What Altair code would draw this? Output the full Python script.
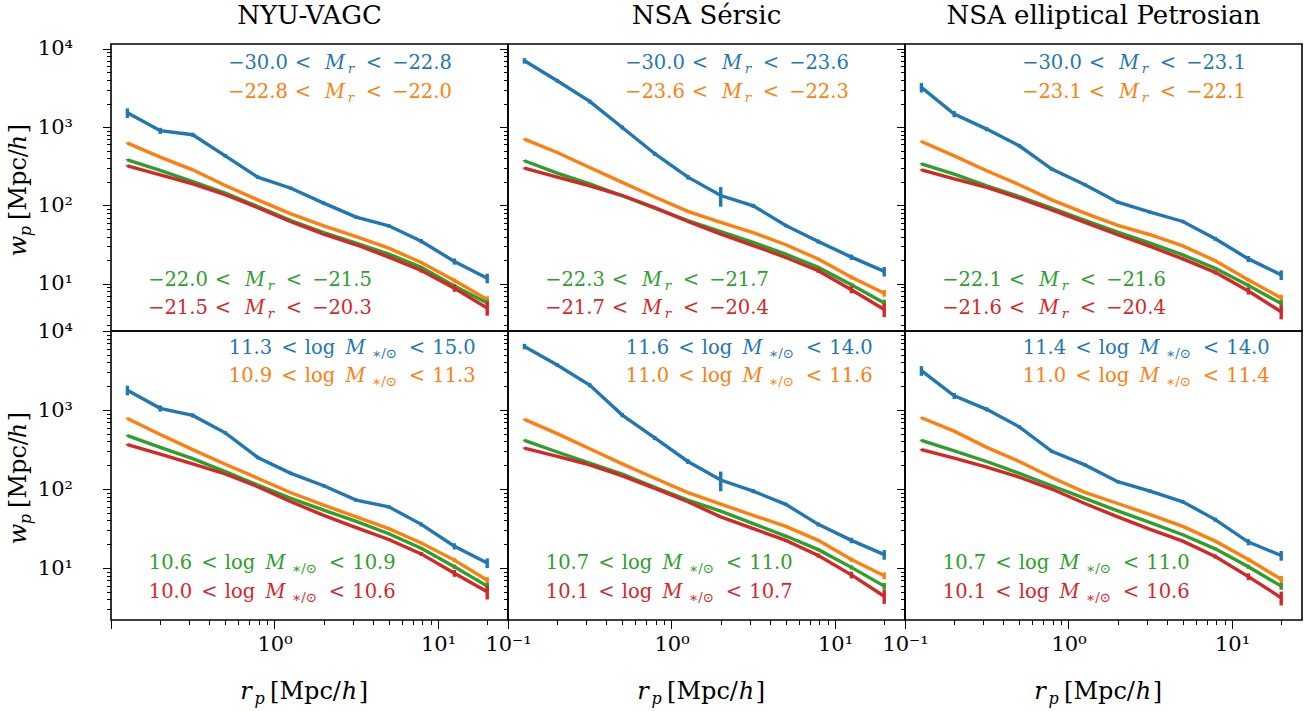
import altair as alt
import pandas as pd

FONT = "DejaVu Serif"
COLORS = ["#1f77b4", "#ff7f0e", "#2ca02c", "#d62728"]
SERIES = ["s0", "s1", "s2", "s3"]

TITLES = ["NYU-VAGC", "NSA Sérsic", "NSA elliptical Petrosian"]

# projected separation bin centres [Mpc/h]
RP = [0.126, 0.2, 0.316, 0.5, 0.79, 1.26, 2.0, 3.16, 5.0, 7.9, 12.6, 20.0]

# ---- top row: magnitude bins ----
NYU_MR_BLUE = [1520, 900, 800, 430, 230, 166, 107, 71, 55, 35, 19.3, 11.8]
NYU_MR_ORANGE = [625, 414, 285, 180, 118, 78, 55, 40, 28.5, 18.7, 11, 6.3]
NYU_MR_GREEN = [383, 280, 202, 144, 97, 64, 45, 33, 24, 16.2, 9.4, 5.7]
NYU_MR_RED = [321, 246, 189, 137, 94, 62, 43, 31.5, 21.9, 14.8, 8.8, 4.9]

SER_MR_BLUE = [7030, 3900, 2130, 990, 457, 230, 134, 99, 55.6, 34.7, 21.9, 14.4]
SER_MR_ORANGE = [703, 475, 305, 197, 128, 84, 61, 45, 31.5, 20.7, 12.1, 7.6]
SER_MR_GREEN = [372, 259, 189, 133, 92.5, 64, 46.5, 33.7, 23.9, 16.2, 9.7, 5.7]
SER_MR_RED = [300, 230, 178, 134, 94, 62.5, 43, 30.8, 21.7, 14.7, 8.4, 4.7]

PET_MR_BLUE = [3210, 1470, 943, 578, 291, 184, 110, 82, 62.5, 37.5, 20.8, 13]
PET_MR_ORANGE = [656, 430, 277, 184, 118, 80, 55.6, 42.3, 30.5, 19.7, 11.2, 6.6]
PET_MR_GREEN = [340, 251, 178, 130, 92.5, 64.4, 45.7, 33, 23.4, 15.8, 9.5, 5.6]
PET_MR_RED = [285, 219, 170, 124, 88, 60.7, 42.3, 30, 20.8, 14, 8.1, 4.4]

# ---- bottom row: stellar-mass bins ----
NYU_MS_BLUE = [1780, 1050, 855, 514, 251, 158, 110, 72.4, 59.5, 35.7, 18.9, 11.6]
NYU_MS_ORANGE = [783, 489, 315, 206, 137, 89.8, 62.5, 44.4, 31.5, 20.8, 12.6, 7.0]
NYU_MS_GREEN = [475, 337, 242, 166, 112, 76, 54, 39, 27.2, 17.8, 10.4, 5.9]
NYU_MS_RED = [365, 277, 208, 155, 107, 69, 46.5, 32.4, 23, 15.1, 8.6, 5.0]

SER_MS_BLUE = [6370, 3720, 2070, 863, 443, 223, 130, 94, 64, 35.7, 22.4, 14.8]
SER_MS_ORANGE = [760, 503, 324, 208, 137, 90, 64.4, 46.5, 33.7, 22.4, 12.8, 8.0]
SER_MS_GREEN = [414, 294, 213, 154, 105, 72.4, 52.4, 36.5, 25.4, 17.1, 10.2, 5.9]
SER_MS_RED = [330, 259, 202, 147, 102, 69, 44.4, 31.5, 22.4, 14.4, 8.2, 4.4]

PET_MS_BLUE = [3150, 1510, 1020, 612, 300, 202, 124, 94, 69, 41, 21.3, 14.4]
PET_MS_ORANGE = [798, 540, 337, 223, 140, 90.6, 65.6, 47.5, 33.7, 21.9, 12.8, 7.2]
PET_MS_GREEN = [414, 305, 223, 158, 110, 76, 52.8, 37.5, 26.4, 17.5, 10.4, 5.9]
PET_MS_RED = [315, 246, 189, 141, 100, 65.6, 44.4, 30.8, 21.9, 14, 7.8, 4.2]

# relative error bars
BLUE_ERR = [0.14, 0.09, 0.06, 0.05, 0.05, 0.05, 0.05, 0.05, 0.05, 0.06, 0.09, 0.14]
BLUE_ERR_SER = [0.08, 0.05, 0.06, 0.06, 0.06, 0.07, 0.28, 0.06, 0.05, 0.06, 0.08, 0.14]
ORANGE_ERR = [0.02, 0.02, 0.02, 0.02, 0.02, 0.02, 0.02, 0.02, 0.03, 0.04, 0.06, 0.10]
GREEN_ERR = [0.02, 0.02, 0.02, 0.02, 0.02, 0.02, 0.02, 0.02, 0.03, 0.04, 0.06, 0.10]
RED_ERR = [0.02, 0.02, 0.02, 0.02, 0.02, 0.02, 0.02, 0.03, 0.04, 0.06, 0.10, 0.20]

# bin labels (lower, upper)
NYU_MR_LAB = [("−30.0", "−22.8"), ("−22.8", "−22.0"), ("−22.0", "−21.5"), ("−21.5", "−20.3")]
SER_MR_LAB = [("−30.0", "−23.6"), ("−23.6", "−22.3"), ("−22.3", "−21.7"), ("−21.7", "−20.4")]
PET_MR_LAB = [("−30.0", "−23.1"), ("−23.1", "−22.1"), ("−22.1", "−21.6"), ("−21.6", "−20.4")]
NYU_MS_LAB = [("11.3", "15.0"), ("10.9", "11.3"), ("10.6", "10.9"), ("10.0", "10.6")]
SER_MS_LAB = [("11.6", "14.0"), ("11.0", "11.6"), ("10.7", "11.0"), ("10.1", "10.7")]
PET_MS_LAB = [("11.4", "14.0"), ("11.0", "11.4"), ("10.7", "11.0"), ("10.1", "10.6")]

# ---------------- layout / style ----------------
W = 397
H = [287, 289]
X_DOM = [0.1, 26.8]
Y_DOM = [[2.5, 11500], [2.2, 10000]]

XTICKS = [m * 10.0 ** k for k in (-1, 0) for m in range(1, 10)] + [10, 20]
XTICKS = [round(v, 3) for v in XTICKS]
YTICKS = [m * 10 ** k for k in (0, 1, 2, 3) for m in range(1, 10) if m * 10 ** k >= 3] + [10000]

MAJOR = "indexof([0.1, 1, 10, 100, 1000, 10000], datum.value) >= 0"
TICKSIZE = {"condition": {"test": MAJOR, "value": 8.5}, "value": 4.5}
LAB_FULL = ("datum.value == 10000 ? '10⁴' : datum.value == 1000 ? '10³' : "
            "datum.value == 100 ? '10²' : datum.value == 10 ? '10¹' : "
            "datum.value == 1 ? '10⁰' : datum.value == 0.1 ? '10⁻¹' : ''")
LAB_NO_LOW = ("datum.value == 10 ? '10¹' : datum.value == 1 ? '10⁰' : ''")

LAB_SIZE = 19.5
SUB_SIZE = 13.5
TITLE_SIZE = 26
AX_TITLE_SIZE = 24


def seg(px, py, t, sz, col, it, ang=0):
    return {"px": px, "py": py, "t": t, "sz": sz, "col": col, "it": it, "ang": ang}


def mr_label(x0, yb, lo, hi, col):
    c = [27, 72, 104, 120, 143, 191]
    return [
        seg(x0 + c[0], yb, lo, LAB_SIZE, col, 0),
        seg(x0 + c[1], yb, "<", LAB_SIZE, col, 0),
        seg(x0 + c[2], yb, "M", LAB_SIZE, col, 1),
        seg(x0 + c[3], yb + 4, "r", SUB_SIZE, col, 1),
        seg(x0 + c[4], yb, "<", LAB_SIZE, col, 0),
        seg(x0 + c[5], yb, hi, LAB_SIZE, col, 0),
    ]


def ms_label(x0, yb, lo, hi, col):
    c = [19.5, 58.5, 89, 124.5, 153.5, 186, 223]
    return [
        seg(x0 + c[0], yb, lo, LAB_SIZE, col, 0),
        seg(x0 + c[1], yb, "<", LAB_SIZE, col, 0),
        seg(x0 + c[2], yb, "log", LAB_SIZE, col, 0),
        seg(x0 + c[3], yb, "M", LAB_SIZE, col, 1),
        seg(x0 + c[4], yb + 4, "∗/⊙", SUB_SIZE, col, 0),
        seg(x0 + c[5], yb, "<", LAB_SIZE, col, 0),
        seg(x0 + c[6], yb, hi, LAB_SIZE, col, 0),
    ]


def panel(row, col, series, errs, labels):
    recs = []
    for s, (vals, rel) in enumerate(zip(series, errs)):
        for x, y, e in zip(RP, vals, rel):
            recs.append({"rp": x, "wp": y, "s": SERIES[s], "lo": y * (1 - e), "hi": y * (1 + e)})
    df = pd.DataFrame(recs)

    xs = alt.Scale(type="log", domain=X_DOM, nice=False)
    ys = alt.Scale(type="log", domain=Y_DOM[row], nice=False)

    if row == 1:
        xaxis = alt.Axis(values=XTICKS, tickSize=TICKSIZE,
                         labelExpr=LAB_NO_LOW if col == 0 else LAB_FULL,
                         labelFlush=False, labelOverlap=False, labelPadding=5,
                         title=None, domain=False, grid=False)
    else:
        xaxis = None
    yaxis = alt.Axis(values=YTICKS, tickSize=TICKSIZE, labelExpr=LAB_FULL,
                     labels=(col == 0), labelOverlap=False, labelPadding=30,
                     title=None, domain=False, grid=False)

    color = alt.Color("s:N", scale=alt.Scale(domain=SERIES, range=COLORS), legend=None)

    lines = alt.Chart(df).mark_line(strokeWidth=3.4).encode(
        x=alt.X("rp:Q", scale=xs, axis=xaxis),
        y=alt.Y("wp:Q", scale=ys, axis=yaxis),
        color=color,
    )
    errs_layer = alt.Chart(df).mark_rule(strokeWidth=3.4).encode(
        x=alt.X("rp:Q"), y=alt.Y("lo:Q"), y2="hi:Q", color=color,
    )

    h = H[row]
    texts = []
    if row == 0:
        ybs = [25, 54, 242, 270]
    else:
        ybs = [23, 51, 238, 267]
    xs0 = [120, 120, 40, 40]
    for k, (lo, hi) in enumerate(labels):
        if row == 0:
            texts += mr_label(xs0[k], ybs[k], lo, hi, COLORS[k])
        else:
            texts += ms_label(xs0[k], ybs[k], lo, hi, COLORS[k])

    if row == 0:
        texts.append(seg(W / 2, -20, TITLES[col], TITLE_SIZE, "black", 0))
    else:
        cx = W / 2
        yb = 368
        texts += [
            seg(cx - 63.5, yb, "r", AX_TITLE_SIZE, "black", 1),
            seg(cx - 50, yb + 5, "p", 16, "black", 1),
            seg(cx - 4, yb, "[Mpc/", AX_TITLE_SIZE, "black", 0),
            seg(cx + 40, yb, "h", AX_TITLE_SIZE, "black", 1),
            seg(cx + 54, yb, "]", AX_TITLE_SIZE, "black", 0),
        ]
    if col == 0:
        cy = h / 2
        bx = -85
        texts += [
            seg(bx, cy + 58.5, "w", AX_TITLE_SIZE, "black", 1, 270),
            seg(bx + 5, cy + 43.5, "p", 16, "black", 1, 270),
            seg(bx, cy - 3, "[Mpc/", AX_TITLE_SIZE, "black", 0, 270),
            seg(bx, cy - 45, "h", AX_TITLE_SIZE, "black", 1, 270),
            seg(bx, cy - 59, "]", AX_TITLE_SIZE, "black", 0, 270),
        ]
    tdf = pd.DataFrame(texts)

    def text_layer(it):
        return alt.Chart(tdf[tdf["it"] == it]).mark_text(
            font=FONT, align="center", baseline="alphabetic",
            fontStyle="italic" if it else "normal",
        ).encode(
            x=alt.X("px:Q", scale=None, axis=None),
            y=alt.Y("py:Q", scale=None, axis=None),
            text="t:N",
            size=alt.Size("sz:Q", scale=None, legend=None),
            color=alt.Color("col:N", scale=None, legend=None),
            angle=alt.Angle("ang:Q", scale=None),
        )

    return alt.layer(lines, errs_layer, text_layer(0), text_layer(1)).properties(width=W, height=h)


panels = [
    panel(0, 0, [NYU_MR_BLUE, NYU_MR_ORANGE, NYU_MR_GREEN, NYU_MR_RED],
          [BLUE_ERR, ORANGE_ERR, GREEN_ERR, RED_ERR], NYU_MR_LAB),
    panel(0, 1, [SER_MR_BLUE, SER_MR_ORANGE, SER_MR_GREEN, SER_MR_RED],
          [BLUE_ERR_SER, ORANGE_ERR, GREEN_ERR, RED_ERR], SER_MR_LAB),
    panel(0, 2, [PET_MR_BLUE, PET_MR_ORANGE, PET_MR_GREEN, PET_MR_RED],
          [BLUE_ERR, ORANGE_ERR, GREEN_ERR, RED_ERR], PET_MR_LAB),
    panel(1, 0, [NYU_MS_BLUE, NYU_MS_ORANGE, NYU_MS_GREEN, NYU_MS_RED],
          [BLUE_ERR, ORANGE_ERR, GREEN_ERR, RED_ERR], NYU_MS_LAB),
    panel(1, 1, [SER_MS_BLUE, SER_MS_ORANGE, SER_MS_GREEN, SER_MS_RED],
          [BLUE_ERR_SER, ORANGE_ERR, GREEN_ERR, RED_ERR], SER_MS_LAB),
    panel(1, 2, [PET_MS_BLUE, PET_MS_ORANGE, PET_MS_GREEN, PET_MS_RED],
          [BLUE_ERR, ORANGE_ERR, GREEN_ERR, RED_ERR], PET_MS_LAB),
]

chart = alt.concat(
    *panels, columns=3, spacing=0, bounds="flush",
).configure_view(
    stroke="black", strokeWidth=1.6,
).configure_axis(
    labelFont=FONT, labelFontSize=21, labelColor="black",
    tickColor="black", tickWidth=1,
).properties(
    padding={"left": 6, "top": 2, "right": 5, "bottom": 2},
    background="white",
)

chart.save("out.html", embed_options={"renderer": "svg", "actions": False})
